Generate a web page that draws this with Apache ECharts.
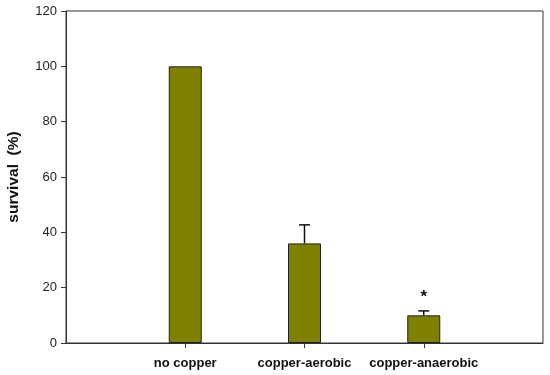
<!DOCTYPE html>
<html>
<head>
<meta charset="utf-8">
<script src="https://cdn.jsdelivr.net/npm/echarts@6/dist/echarts.min.js"></script>
<style>
  html, body { margin: 0; padding: 0; background: #fff; }
  #chart { width: 550px; height: 375px; }
</style>
</head>
<body>
<div id="chart"></div>
<script>
// padded with empty slots so the three bars sit at 1/4, 2/4, 3/4 of the axis
const categories = ["", "no copper", "copper-aerobic", "copper-anaerobic", ""];
const survival = [null, 100, 36, 10, null];
const errorUpper = [null, null, 42.7, 11.6, null];
const marks = ["", "", "", "*", ""];
const yTicks = [0, 20, 40, 60, 80, 100, 120];

const AXIS_COLOR = "#333333";
const FONT = "Liberation Sans, Arial, sans-serif";

const errorData = categories.map((c, i) => [i, survival[i], errorUpper[i], marks[i]]);

const chart = echarts.init(document.getElementById("chart"), null, { renderer: "canvas" });
chart.setOption({
  backgroundColor: "#ffffff",
  animation: false,
  grid: {
    left: 66, right: 7, top: 11, bottom: 32,
    outerBoundsMode: "none",
    containLabel: false,
    show: true, borderColor: AXIS_COLOR, borderWidth: 1
  },
  xAxis: {
    type: "category",
    data: categories,
    boundaryGap: false,
    axisLine: { lineStyle: { color: AXIS_COLOR, width: 1 } },
    axisTick: {
      length: 5,
      interval: (idx) => idx > 0 && idx < categories.length - 1,
      lineStyle: { color: AXIS_COLOR }
    },
    axisLabel: {
      color: "#111", fontFamily: FONT, fontWeight: "bold", fontSize: 13, margin: 14,
      interval: 0
    },
    splitLine: { show: false }
  },
  yAxis: {
    type: "value",
    min: yTicks[0],
    max: yTicks[yTicks.length - 1],
    interval: 20,
    name: "survival  (%)",
    nameLocation: "middle",
    nameRotate: 90,
    nameGap: 44,
    nameTextStyle: { color: "#111", fontFamily: FONT, fontWeight: "bold", fontSize: 15.5 },
    axisLine: { show: true, lineStyle: { color: AXIS_COLOR, width: 1 } },
    axisTick: { show: true, inside: false, length: 5, lineStyle: { color: AXIS_COLOR } },
    axisLabel: { color: "#222", fontFamily: FONT, fontSize: 13, margin: 9 },
    splitLine: { show: false }
  },
  series: [
    {
      type: "bar",
      data: survival,
      barWidth: 33,
      itemStyle: { color: "#808000", borderColor: "#222", borderWidth: 1 }
    },
    {
      type: "custom",
      z: 5,
      data: errorData,
      renderItem: (params, api) => {
        const x = api.value(0);
        const base = api.value(1);
        const top = api.value(2);
        const mark = api.value(3);
        const children = [];
        if (top != null && !isNaN(top)) {
          const p0 = api.coord([x, base]);
          const p1 = api.coord([x, top]);
          const cap = 5.5;
          const style = { stroke: "#111", lineWidth: 1.5 };
          children.push({ type: "line", shape: { x1: p0[0], y1: p0[1], x2: p1[0], y2: p1[1] }, style });
          children.push({ type: "line", shape: { x1: p1[0] - cap, y1: p1[1], x2: p1[0] + cap, y2: p1[1] }, style });
          if (mark) {
            children.push({
              type: "text",
              style: {
                text: mark, x: p1[0], y: p1[1] - 5,
                align: "center", verticalAlign: "bottom",
                fill: "#111", font: "bold 17px " + FONT
              }
            });
          }
        }
        return { type: "group", children };
      }
    }
  ]
});
</script>
</body>
</html>
